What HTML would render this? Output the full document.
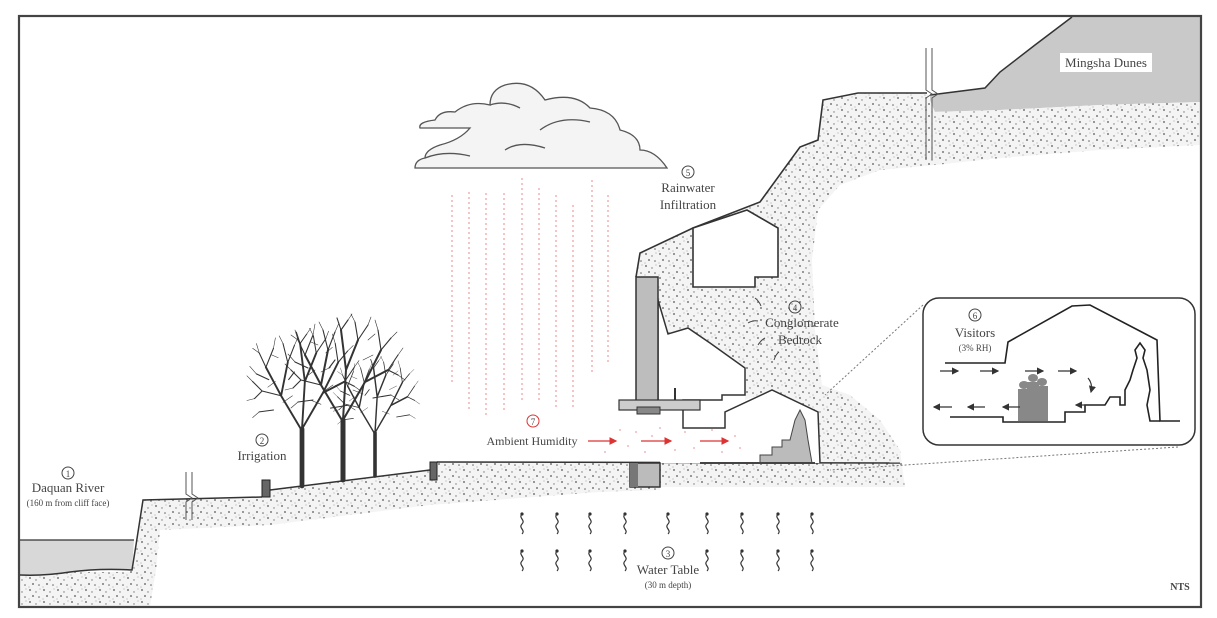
<!DOCTYPE html>
<html><head><meta charset="utf-8">
<style>
html,body{margin:0;padding:0;background:#fff;}
svg{display:block;}
text{font-family:"Liberation Serif",serif;fill:#444;}
</style></head>
<body>
<svg width="1217" height="618" viewBox="0 0 1217 618" xmlns="http://www.w3.org/2000/svg">
<defs>
<pattern id="st" width="14" height="12" patternUnits="userSpaceOnUse">
<rect width="14" height="12" fill="#f4f4f4"/>
<circle cx="2" cy="2" r="0.9" fill="#555"/>
<circle cx="8" cy="4" r="0.7" fill="#777"/>
<circle cx="5" cy="8" r="0.9" fill="#555"/>
<circle cx="11" cy="9" r="0.8" fill="#666"/>
<circle cx="12" cy="1" r="0.5" fill="#888"/>
<circle cx="1" cy="11" r="0.5" fill="#888"/>
</pattern>
<marker id="ar" markerWidth="6" markerHeight="6" refX="5" refY="3" orient="auto"><path d="M0,0 L6,3 L0,6z" fill="#d33"/></marker>
<marker id="ak" markerWidth="6" markerHeight="6" refX="5" refY="3" orient="auto"><path d="M0,0 L6,3 L0,6z" fill="#333"/></marker>
<g id="tree" stroke="#333" fill="none" stroke-linecap="round">
<path d="M0,0 L0,-60" stroke-width="5"/>
<path d="M0,-58 L-22,-95 L-38,-125 M-22,-95 L-15,-130 M0,-60 L3,-110 L-2,-150 M3,-110 L15,-140 M0,-60 L22,-98 L38,-130 M22,-98 L45,-110" stroke-width="2"/>
<path d="M-38,-125 L-45,-140 M-38,-125 L-30,-145 M-15,-130 L-20,-150 M-15,-130 L-8,-148 M-2,-150 L-6,-162 M-2,-150 L5,-160 M15,-140 L12,-158 M15,-140 L25,-155 M38,-130 L35,-150 M38,-130 L48,-142 M45,-110 L55,-125 M45,-110 L55,-105 M-22,-95 L-42,-100 M-42,-100 L-52,-110 M-30,-80 L-45,-78 M30,-82 L48,-85 M-8,-120 L-14,-112 M-42,-100 L-50,-92 M-35,-112 L-48,-118" stroke-width="1.1"/>
<path d="M-45,-140 L-48,-150 M-45,-140 L-52,-145 M-30,-145 L-28,-156 M-20,-150 L-24,-158 M-8,-148 L-4,-157 M5,-160 L9,-166 M12,-158 L8,-166 M25,-155 L28,-163 M35,-150 L32,-160 M48,-142 L54,-148 M55,-125 L60,-132 M55,-105 L62,-100 M-52,-110 L-58,-116 M-45,-78 L-52,-72 M48,-85 L56,-80 M-50,-92 L-58,-90 M-48,-118 L-55,-126 M20,-120 L30,-125 M-28,-110 L-36,-104 M10,-90 L20,-86 M-10,-95 L-20,-88 M25,-140 L32,-146 M-25,-135 L-32,-138" stroke-width="0.6"/>
</g>
</defs>
<rect x="0" y="0" width="1217" height="618" fill="#fff"/>

<!-- dunes -->
<polygon points="930,95 985,88 1000,72 1035,45 1072,17 1200,17 1200,102 1100,105 1000,110 930,112" fill="#c9c9c9"/>
<polyline points="930,95 985,88 1000,72 1035,45 1072,17" fill="none" stroke="#333" stroke-width="1.5"/>
<rect x="1060" y="53" width="92" height="19" fill="#fff"/>
<text x="1106" y="67" font-size="13" text-anchor="middle" fill="#333">Mingsha Dunes</text>

<!-- stipple soil: cliff mass -->
<polygon points="823,100 858,93 927,93 935,112 1000,110 1100,105 1200,102 1200,145 1100,150 1000,158 935,165 880,170 840,185 818,210 812,260 815,330 822,385 850,395 880,420 900,450 905,487 660,487 660,463 820,463 818,412 772,390 745,400 745,368 710,343 688,328 668,334 658,300 658,277 636,277 640,253 693,228 760,202 800,147 818,140" fill="url(#st)"/>
<!-- left ground soil -->
<polygon points="20,575 70,572 130,572 136,545 143,500 262,497 272,490 430,470 437,462 660,462 660,490 600,492 430,505 270,525 160,530 156,570 150,606 20,606" fill="url(#st)"/>

<!-- river -->
<path d="M20,540 L134,540 L132,570 Q100,568 70,572 Q45,576 20,575 Z" fill="#d8d8d8"/>
<path d="M20,540 L134,540" stroke="#333" stroke-width="1.2"/>
<path d="M20,575 Q45,576 70,572 Q100,568 132,570 L136,545 L143,500 L262,497" fill="none" stroke="#333" stroke-width="1.5"/>
<polyline points="270,490 430,470" fill="none" stroke="#333" stroke-width="1.5"/>
<line x1="437" y1="462" x2="900" y2="463" stroke="#333" stroke-width="1.5"/>
<rect x="262" y="480" width="8" height="17" fill="#666" stroke="#222"/>
<rect x="430" y="462" width="7" height="18" fill="#666" stroke="#222"/>
<g stroke="#555" fill="none" stroke-width="1">
<path d="M186,472 V494 L192,498 L186,502 V520 M192,472 V494 L198,498 L192,502 V520"/>
<path d="M926,48 V90 L932,94 L926,98 V160 M932,48 V90 L938,94 L932,98 V160"/>
</g>

<!-- trees -->
<use href="#tree" transform="translate(302,486) scale(0.95)"/>
<use href="#tree" transform="translate(343,480) scale(1.0)"/>
<use href="#tree" transform="translate(375,476) scale(0.72)"/>

<!-- cliff outline -->
<polyline points="927,93 858,93 823,100 818,140 800,147 760,202 693,228 640,253 636,277" fill="none" stroke="#333" stroke-width="1.6"/>
<polygon points="693,228 747,210 778,228 778,277 755,277 755,287 693,287" fill="#fff" stroke="#333" stroke-width="1.6"/>
<polygon points="658,300 668,334 688,328 710,343 745,368 745,395 722,395 722,400 683,400 683,410 658,410" fill="#fff" stroke="#333" stroke-width="1.5"/>
<polygon points="660,410 683,410 683,428 725,428 725,412 772,390 818,412 820,463 660,463" fill="#fff" stroke="none"/>
<polyline points="683,410 683,428 725,428 725,412 772,390 818,412 820,463" fill="none" stroke="#333" stroke-width="1.5"/>
<path d="M735,463 L760,463 L760,455 L772,455 L772,447 L782,447 L782,440 L790,440 L795,420 L800,410 L805,420 L808,440 L812,463 Z" fill="#bbb" stroke="#444"/>
<path d="M700,463 L815,463" stroke="#444" stroke-width="2"/>
<rect x="636" y="277" width="22" height="131" fill="#bdbdbd" stroke="#333" stroke-width="1.5"/>
<rect x="619" y="400" width="81" height="10" fill="#ccc" stroke="#333" stroke-width="1.2"/>
<rect x="637" y="407" width="23" height="7" fill="#888" stroke="#333"/>
<line x1="675" y1="388" x2="675" y2="400" stroke="#333" stroke-width="2"/>
<rect x="630" y="463" width="30" height="24" fill="#bbb" stroke="#333" stroke-width="1.5"/>
<rect x="630" y="463" width="8" height="24" fill="#777"/>

<!-- labels -->
<g font-size="12" text-anchor="middle">
<circle cx="68" cy="473" r="6" fill="none" stroke="#444"/><text x="68" y="477" font-size="9">1</text>
<text x="68" y="492" font-size="13">Daquan River</text>
<text x="68" y="506" font-size="9">(160 m from cliff face)</text>
<circle cx="262" cy="440" r="6" fill="none" stroke="#444"/><text x="262" y="444" font-size="9">2</text>
<text x="262" y="460" font-size="13">Irrigation</text>
<circle cx="668" cy="553" r="6" fill="none" stroke="#444"/><text x="668" y="557" font-size="9">3</text>
<text x="668" y="574" font-size="13">Water Table</text>
<text x="668" y="588" font-size="9">(30 m depth)</text>
<circle cx="795" cy="307" r="6" fill="none" stroke="#444"/><text x="795" y="311" font-size="9">4</text>
<text x="802" y="327" font-size="13">Conglomerate</text>
<text x="800" y="344" font-size="13">Bedrock</text>
<circle cx="688" cy="172" r="6" fill="none" stroke="#444"/><text x="688" y="176" font-size="9">5</text>
<text x="688" y="192" font-size="13">Rainwater</text>
<text x="688" y="209" font-size="13">Infiltration</text>
<text x="1180" y="590" font-size="10" font-family="Liberation Sans" font-weight="bold" fill="#333">NTS</text>
</g>
<g stroke="#444" fill="none" stroke-width="1">
<path d="M755,298 q4,3 6,8"/><path d="M748,323 q5,-3 10,-2"/><path d="M758,345 q3,-5 7,-7"/><path d="M774,360 q2,-6 5,-8"/>
</g>

<!-- cloud -->
<g fill="#f4f4f4" stroke="#555" stroke-width="1.3">
<path d="M415,168 L667,168 Q655,150 640,150 Q640,135 620,130 Q615,110 590,108 Q575,92 545,100 Q530,78 505,85 Q490,90 490,105 Q470,100 455,112 Q440,110 435,120 Q418,122 420,128 L470,128 Q460,140 440,145 Q425,150 425,158 Q415,160 415,168 Z"/>
<path d="M425,158 Q445,150 470,156 M540,130 Q560,115 590,122 M505,150 Q520,140 545,148 M490,105 Q505,100 520,108" fill="none"/>
</g>

<!-- rain -->
<g stroke="#e88" stroke-width="1" stroke-dasharray="2,3">
<line x1="452" y1="195" x2="452" y2="385"/><line x1="469" y1="192" x2="469" y2="410"/>
<line x1="486" y1="193" x2="486" y2="415"/><line x1="504" y1="193" x2="504" y2="412"/>
<line x1="522" y1="178" x2="522" y2="400"/><line x1="539" y1="188" x2="539" y2="400"/>
<line x1="556" y1="195" x2="556" y2="410"/><line x1="573" y1="205" x2="573" y2="410"/>
<line x1="592" y1="180" x2="592" y2="375"/><line x1="608" y1="195" x2="608" y2="365"/>
</g>
<circle cx="533" cy="421" r="6" fill="none" stroke="#d33"/><text x="533" y="425" font-size="9" text-anchor="middle" fill="#d33">7</text>
<text x="532" y="445" font-size="12" text-anchor="middle" fill="#d44">Ambient Humidity</text>
<g stroke="#d33" stroke-width="1.3" marker-end="url(#ar)">
<line x1="588" y1="441" x2="616" y2="441"/><line x1="641" y1="441" x2="671" y2="441"/><line x1="700" y1="441" x2="728" y2="441"/>
</g>
<g fill="#f2b8b8">
<circle cx="620" cy="430" r="1"/><circle cx="628" cy="446" r="1"/><circle cx="636" cy="432" r="1"/><circle cx="645" cy="452" r="1"/><circle cx="660" cy="428" r="1"/><circle cx="675" cy="450" r="1"/><circle cx="685" cy="432" r="1"/><circle cx="694" cy="448" r="1"/><circle cx="712" cy="430" r="1"/><circle cx="722" cy="452" r="1"/><circle cx="735" cy="436" r="1"/><circle cx="740" cy="448" r="1"/><circle cx="605" cy="452" r="1"/><circle cx="652" cy="436" r="1"/>
</g>

<!-- water table squiggles -->
<g stroke="#333" fill="none" stroke-width="1.2">
<path d="M522,514 c-4,4 4,6 0,10 c-4,4 4,6 0,10 M557,514 c-4,4 4,6 0,10 c-4,4 4,6 0,10 M590,514 c-4,4 4,6 0,10 c-4,4 4,6 0,10 M625,514 c-4,4 4,6 0,10 c-4,4 4,6 0,10 M668,514 c-4,4 4,6 0,10 c-4,4 4,6 0,10 M707,514 c-4,4 4,6 0,10 c-4,4 4,6 0,10 M742,514 c-4,4 4,6 0,10 c-4,4 4,6 0,10 M778,514 c-4,4 4,6 0,10 c-4,4 4,6 0,10 M812,514 c-4,4 4,6 0,10 c-4,4 4,6 0,10"/>
<path d="M522,551 c-4,4 4,6 0,10 c-4,4 4,6 0,10 M557,551 c-4,4 4,6 0,10 c-4,4 4,6 0,10 M590,551 c-4,4 4,6 0,10 c-4,4 4,6 0,10 M625,551 c-4,4 4,6 0,10 c-4,4 4,6 0,10 M707,551 c-4,4 4,6 0,10 c-4,4 4,6 0,10 M742,551 c-4,4 4,6 0,10 c-4,4 4,6 0,10 M778,551 c-4,4 4,6 0,10 c-4,4 4,6 0,10 M812,551 c-4,4 4,6 0,10 c-4,4 4,6 0,10"/>
</g>
<g fill="#333">
<circle cx="522" cy="514" r="1.6"/><circle cx="557" cy="514" r="1.6"/><circle cx="590" cy="514" r="1.6"/><circle cx="625" cy="514" r="1.6"/><circle cx="668" cy="514" r="1.6"/><circle cx="707" cy="514" r="1.6"/><circle cx="742" cy="514" r="1.6"/><circle cx="778" cy="514" r="1.6"/><circle cx="812" cy="514" r="1.6"/>
<circle cx="522" cy="551" r="1.6"/><circle cx="557" cy="551" r="1.6"/><circle cx="590" cy="551" r="1.6"/><circle cx="625" cy="551" r="1.6"/><circle cx="707" cy="551" r="1.6"/><circle cx="742" cy="551" r="1.6"/><circle cx="778" cy="551" r="1.6"/><circle cx="812" cy="551" r="1.6"/>
</g>

<!-- inset -->
<g stroke="#777" stroke-width="1" stroke-dasharray="2,2" fill="none">
<line x1="923" y1="305" x2="825" y2="395"/><line x1="1178" y1="447" x2="830" y2="470"/>
</g>
<rect x="923" y="298" width="272" height="147" rx="16" fill="#fff" stroke="#333" stroke-width="1.5"/>
<g stroke="#222" stroke-width="1.6" fill="none">
<polyline points="945,363 1005,363 1008,342 1072,306 1090,305 1157,340 1160,421 1180,421"/>
<polyline points="950,417 1003,417 1003,422 1065,422 1065,412 1085,412 1085,405 1105,405 1110,397 1120,397 1120,405 1125,405 1125,390 1130,380 1133,370 1137,358 1135,350 1140,343 1145,350 1143,358 1147,370 1150,390 1147,405 1150,421 1160,421"/>
</g>
<g fill="#888">
<ellipse cx="1024" cy="385" rx="5" ry="4"/><rect x="1018" y="389" width="12" height="32"/>
<ellipse cx="1033" cy="378" rx="5" ry="4"/><rect x="1027" y="382" width="12" height="39"/>
<ellipse cx="1042" cy="382" rx="5" ry="4"/><rect x="1036" y="386" width="12" height="35"/>
</g>
<g stroke="#333" stroke-width="1.2" marker-end="url(#ak)">
<line x1="940" y1="371" x2="958" y2="371"/><line x1="980" y1="371" x2="998" y2="371"/>
<line x1="1025" y1="371" x2="1043" y2="371"/><line x1="1058" y1="371" x2="1076" y2="371"/>
<line x1="952" y1="407" x2="934" y2="407"/><line x1="985" y1="407" x2="968" y2="407"/>
<line x1="1020" y1="407" x2="1003" y2="407"/><line x1="1092" y1="405" x2="1076" y2="405"/>
<path d="M1088,378 q5,6 3,14" fill="none"/>
</g>
<g font-size="12" text-anchor="middle">
<circle cx="975" cy="315" r="6" fill="none" stroke="#444"/><text x="975" y="319" font-size="9">6</text>
<text x="975" y="337" font-size="13">Visitors</text>
<text x="975" y="351" font-size="9">(3% RH)</text>
</g>

<rect x="19" y="16" width="1182" height="591" fill="none" stroke="#444" stroke-width="2.2"/>
</svg>
</body></html>
